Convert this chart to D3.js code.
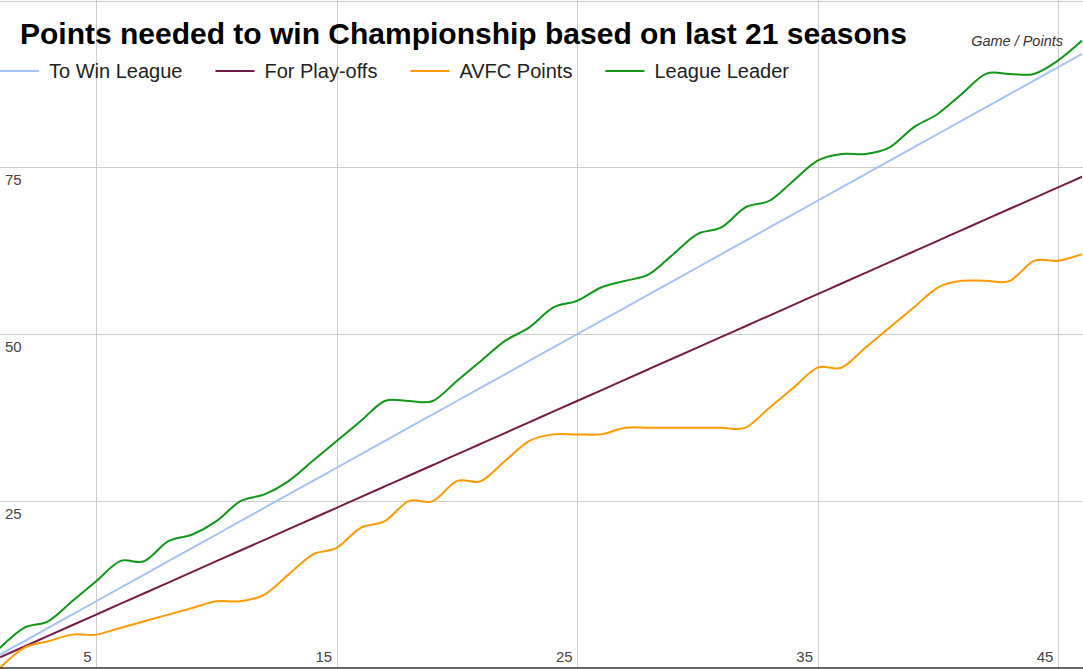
<!DOCTYPE html>
<html>
<head>
<meta charset="utf-8">
<script src="https://cdn.jsdelivr.net/npm/d3@7"></script>
<style>
  html, body { margin: 0; padding: 0; background: #fff; }
  svg { display: block; font-family: "Liberation Sans", Arial, sans-serif; }
</style>
</head>
<body>
<svg id="chart" width="1083" height="669"></svg>
<script>
// ---- data ----
const games = [1,2,3,4,5,6,7,8,9,10,11,12,13,14,15,16,17,18,19,20,21,22,23,24,25,26,27,28,29,30,31,32,33,34,35,36,37,38,39,40,41,42,43,44,45,46];
const toWinLeague = [2,4,6,8,10,12,14,16,18,20,22,24,26,28,30,32,34,36,38,40,42,44,46,48,50,52,54,56,58,60,62,64,66,68,70,72,74,76,78,80,82,84,86,88,90,92];
const forPlayoffs = [1.6,3.2,4.8,6.4,8,9.6,11.2,12.8,14.4,16,17.6,19.2,20.8,22.4,24,25.6,27.2,28.8,30.4,32,33.6,35.2,36.8,38.4,40,41.6,43.2,44.8,46.4,48,49.6,51.2,52.8,54.4,56,57.6,59.2,60.8,62.4,64,65.6,67.2,68.8,70.4,72,73.6];
const avfcPoints = [0,3,4,5,5,6,7,8,9,10,10,11,14,17,18,21,22,25,25,28,28,31,34,35,35,35,36,36,36,36,36,36,39,42,45,45,48,51,54,57,58,58,58,61,61,62];
const leagueLeader = [3,6,7,10,13,16,16,19,20,22,25,26,28,31,34,37,40,40,40,43,46,49,51,54,55,57,58,59,62,65,66,69,70,73,76,77,77,78,81,83,86,89,89,89,91,94];
const seriesNames = ["To Win League", "For Play-offs", "AVFC Points", "League Leader"];
const seriesColors = ["#a4c2f4", "#741b47", "#ff9900", "#109618"];
const xTicks = [5, 15, 25, 35, 45];
const yGrid = [0, 25, 50, 75, 100];
const yTickLabels = [25, 50, 75];
const titleText = "Points needed to win Championship based on last 21 seasons";
const axisTitle = "Game / Points";

const seriesValues = [toWinLeague, forPlayoffs, avfcPoints, leagueLeader];

// ---- layout ----
const svg = d3.select("#chart");
const W = 1083, H = 669;
const x = d3.scaleLinear().domain([1, 46]).range([0, 1082]);
const y = d3.scaleLinear().domain([0, 100]).range([668, 0.5]);

// gridlines
const g = svg.append("g");
g.selectAll(".vgrid").data(xTicks).enter().append("line")
  .attr("x1", d => Math.round(x(d)) + 0.5).attr("x2", d => Math.round(x(d)) + 0.5)
  .attr("y1", 0).attr("y2", 668)
  .attr("stroke", "#cccccc").attr("stroke-width", 1);
g.selectAll(".hgrid").data(yGrid.filter(d => d > 0)).enter().append("line")
  .attr("x1", 0).attr("x2", W)
  .attr("y1", d => Math.round(y(d)) + 0.5).attr("y2", d => Math.round(y(d)) + 0.5)
  .attr("stroke", "#cccccc").attr("stroke-width", 1);

// lines
const line = d3.line()
  .x((d, i) => x(games[i]))
  .y(d => y(d))
  .curve(d3.curveCardinal.tension(0));

svg.append("g").selectAll("path").data(seriesValues).enter().append("path")
  .attr("d", d => line(d))
  .attr("fill", "none")
  .attr("stroke", (d, i) => seriesColors[i])
  .attr("stroke-width", 2);

// baseline
svg.append("line")
  .attr("x1", 0).attr("x2", W)
  .attr("y1", y(0)).attr("y2", y(0))
  .attr("stroke", "#333333").attr("stroke-width", 1.5);

// x tick labels
svg.append("g").selectAll("text").data(xTicks).enter().append("text")
  .attr("x", d => x(d) - 4.5)
  .attr("y", 662)
  .attr("text-anchor", "end")
  .attr("font-size", 15)
  .attr("fill", "#444444")
  .text(d => d);

// y tick labels
svg.append("g").selectAll("text").data(yTickLabels).enter().append("text")
  .attr("x", 5)
  .attr("y", d => y(d) + 18)
  .attr("font-size", 15)
  .attr("fill", "#444444")
  .text(d => d);

// title
svg.append("text")
  .attr("x", 20).attr("y", 44)
  .attr("font-size", 30)
  .attr("font-weight", "bold")
  .attr("fill", "#000")
  .text(titleText);

// axis title
svg.append("text")
  .attr("x", 1063).attr("y", 46)
  .attr("text-anchor", "end")
  .attr("font-size", 14.5)
  .attr("font-style", "italic")
  .attr("fill", "#333333")
  .text(axisTitle);

// legend
const legend = svg.append("g");
let lx = 0;
seriesNames.forEach((name, i) => {
  legend.append("line")
    .attr("x1", lx).attr("x2", lx + 39)
    .attr("y1", 71).attr("y2", 71)
    .attr("stroke", seriesColors[i]).attr("stroke-width", 2);
  const t = legend.append("text")
    .attr("x", lx + 49).attr("y", 78)
    .attr("font-size", 20)
    .attr("fill", "#222222")
    .text(name);
  lx = lx + 49 + t.node().getComputedTextLength() + 33;
});
</script>
</body>
</html>
